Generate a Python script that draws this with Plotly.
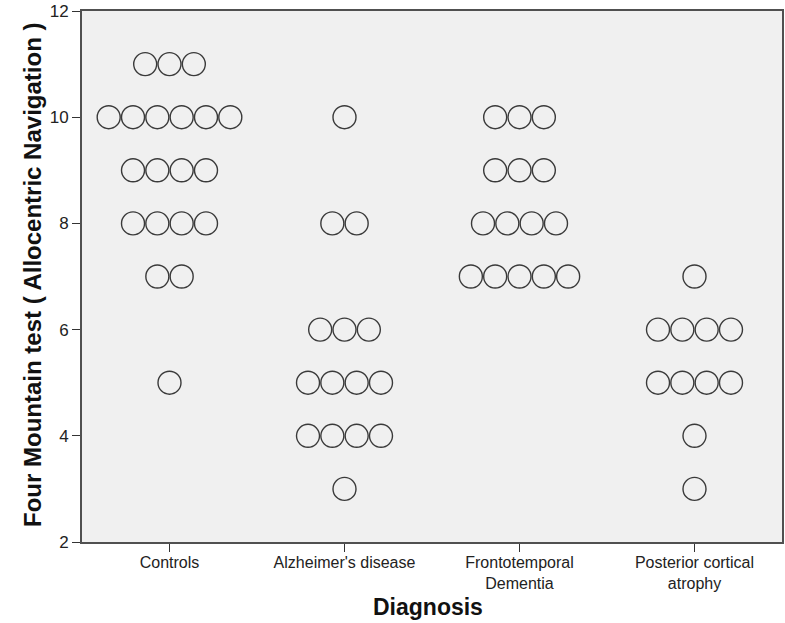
import plotly.graph_objects as go

categories = ["Controls", "Alzheimer's disease", "Frontotemporal<br>Dementia", "Posterior cortical<br>atrophy"]
controls = [11, 11, 11, 10, 10, 10, 10, 10, 10, 9, 9, 9, 9, 8, 8, 8, 8, 7, 7, 5]
alzheimers = [10, 8, 8, 6, 6, 6, 5, 5, 5, 5, 4, 4, 4, 4, 3]
ftd = [10, 10, 10, 9, 9, 9, 8, 8, 8, 8, 7, 7, 7, 7, 7]
pca = [7, 6, 6, 6, 6, 5, 5, 5, 5, 4, 3]
groups = [controls, alzheimers, ftd, pca]

dot_w = 0.139  # horizontal spacing of stacked dots, in category units

xs, ys = [], []
for ci, vals in enumerate(groups):
    counts = {}
    for v in vals:
        counts[v] = counts.get(v, 0) + 1
    for v, n in counts.items():
        for j in range(n):
            xs.append(ci + (j - (n - 1) / 2) * dot_w)
            ys.append(v)

fig = go.Figure(go.Scatter(
    x=xs, y=ys, mode="markers",
    marker=dict(symbol="circle-open", size=23, color="#3a3a3a", line=dict(width=1.4, color="#3a3a3a")),
    hoverinfo="skip", cliponaxis=False,
))

font = "Liberation Sans, Arial, sans-serif"
L, R, T, B = 82, 3, 11, 81
W, H = 785, 623
pw, ph = W - L - R, H - T - B

fig.update_layout(
    width=W, height=H,
    margin=dict(l=L, r=R, t=T, b=B),
    paper_bgcolor="white", plot_bgcolor="#f0f0f0",
    showlegend=False,
    font=dict(family=font, color="#222"),
    xaxis=dict(
        range=[-0.5, 3.5], tickmode="array", tickvals=[0, 1, 2, 3], ticktext=categories,
        ticks="outside", ticklen=8, tickcolor="#333", tickwidth=1, ticklabelstandoff=-3,
        showgrid=False, zeroline=False, showline=True, linecolor="#505050", linewidth=2, mirror=True,
        tickfont=dict(size=16, color="#222"), automargin=False,
    ),
    yaxis=dict(
        range=[2, 12], tickvals=[2, 4, 6, 8, 10, 12],
        ticks="outside", ticklen=8, tickcolor="#333", tickwidth=1,
        showgrid=False, zeroline=False, showline=True, linecolor="#505050", linewidth=2, mirror=True,
        tickfont=dict(size=17, color="#222"), automargin=False,
    ),
    annotations=[
        dict(text="<b>Four Mountain test ( Allocentric Navigation )</b>", textangle=-90,
             xref="paper", yref="paper", x=(32 - L) / pw, y=(H - B - 275) / ph,
             xanchor="center", yanchor="middle", showarrow=False,
             font=dict(size=24, color="#111")),
        dict(text="<b>Diagnosis</b>",
             xref="paper", yref="paper", x=(428 - L) / pw, y=-(607 - (H - B)) / ph,
             xanchor="center", yanchor="middle", showarrow=False,
             font=dict(size=23, color="#111")),
    ],
)

fig.write_html("out.html", config={"displayModeBar": False},
               post_script="document.body.style.margin='0';document.body.style.overflow='hidden';")
